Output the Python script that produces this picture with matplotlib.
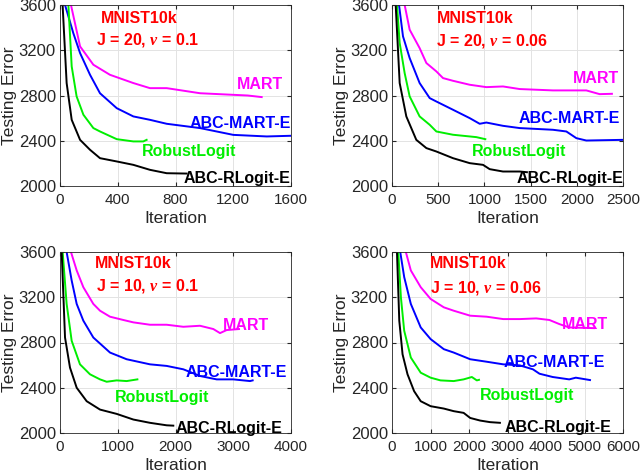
"""ABC boosting on MNIST10k: testing error vs iteration, 4 panels"""
import matplotlib
matplotlib.use("Agg")
import matplotlib.pyplot as plt

plt.rcParams["font.family"] = ["Liberation Sans", "DejaVu Sans"]
plt.rcParams["mathtext.fontset"] = "custom"
plt.rcParams["mathtext.it"] = "Liberation Serif:italic:bold"

# ---- panel 1: J = 20, nu = 0.1 ----
p1_mart_x = [70, 76, 139, 231, 346, 508, 623, 739, 970, 1200, 1300, 1397]
p1_mart_y = [3700, 3600, 3234, 3072, 2983, 2910, 2865, 2865, 2820, 2806, 2800, 2786]
p1_abcm_x = [30, 35, 92, 139, 208, 277, 393, 508, 623, 739, 970, 1200, 1432, 1600]
p1_abcm_y = [3700, 3600, 3352, 3175, 2983, 2820, 2688, 2615, 2585, 2550, 2512, 2452, 2438, 2444]
p1_rob_x = [54, 58, 81, 115, 162, 231, 277, 393, 508, 577, 600]
p1_rob_y = [3700, 3600, 3057, 2792, 2630, 2512, 2482, 2414, 2394, 2394, 2408]
p1_abcr_x = [15, 18, 46, 81, 139, 208, 277, 393, 508, 623, 739, 877]
p1_abcr_y = [3700, 3600, 2910, 2585, 2408, 2320, 2246, 2217, 2187, 2143, 2113, 2110]

# ---- panel 2: J = 20, nu = 0.06 ----
p2_mart_x = [130, 137, 191, 299, 372, 480, 552, 660, 841, 1021, 1201, 1382, 1742, 2103, 2247, 2380]
p2_mart_y = [3700, 3600, 3382, 3219, 3087, 3013, 2954, 2930, 2895, 2874, 2880, 2857, 2845, 2845, 2812, 2815]
p2_abcm_x = [70, 76, 119, 191, 299, 408, 480, 660, 841, 949, 1021, 1201, 1382, 1742, 1887, 1995, 2103, 2500]
p2_abcm_y = [3700, 3600, 3323, 3131, 2910, 2777, 2747, 2674, 2600, 2550, 2561, 2532, 2512, 2497, 2482, 2423, 2402, 2408]
p2_rob_x = [50, 54, 83, 137, 191, 299, 408, 480, 660, 841, 913, 1010]
p2_rob_y = [3700, 3600, 3264, 2998, 2792, 2615, 2541, 2482, 2453, 2438, 2432, 2414]
p2_abcr_x = [36, 40, 83, 155, 263, 372, 480, 660, 841, 985, 1057, 1201, 1382, 1460]
p2_abcr_y = [3700, 3600, 2910, 2615, 2408, 2335, 2305, 2246, 2202, 2187, 2149, 2128, 2128, 2122]

# ---- panel 3: J = 10, nu = 0.1 ----
p3_mart_x = [180, 190, 289, 404, 577, 693, 866, 1097, 1270, 1558, 1847, 2136, 2424, 2655, 2771, 2886, 3100]
p3_mart_y = [3700, 3600, 3437, 3289, 3141, 3081, 3028, 2999, 2978, 2957, 2957, 2939, 2948, 2919, 2883, 2910, 2919]
p3_abcm_x = [105, 115, 202, 289, 404, 577, 866, 1154, 1558, 1847, 2136, 2424, 2713, 3001, 3290, 3336]
p3_abcm_y = [3700, 3600, 3348, 3141, 2993, 2844, 2711, 2652, 2607, 2593, 2563, 2504, 2474, 2474, 2459, 2465]
p3_rob_x = [40, 46, 115, 202, 346, 519, 693, 808, 981, 1154, 1340]
p3_rob_y = [3700, 3600, 3141, 2815, 2607, 2519, 2474, 2453, 2465, 2459, 2474]
p3_abcr_x = [25, 29, 87, 173, 289, 462, 693, 981, 1270, 1558, 1847, 1962]
p3_abcr_y = [3700, 3600, 2844, 2578, 2400, 2281, 2207, 2169, 2119, 2090, 2068, 2065]

# ---- panel 4: J = 10, nu = 0.06 ----
p4_mart_x = [340, 360, 489, 746, 1003, 1346, 1603, 2031, 2460, 2889, 3317, 3746, 4089, 4346, 4603, 5250]
p4_mart_y = [3700, 3600, 3437, 3289, 3185, 3111, 3081, 3037, 3028, 3007, 3007, 3013, 2999, 2963, 2933, 2927]
p4_abcm_x = [200, 214, 317, 489, 746, 1003, 1346, 1603, 2031, 2460, 2889, 3317, 3660, 3831, 4174, 4603, 4774, 5143]
p4_abcm_y = [3700, 3600, 3378, 3141, 2933, 2830, 2741, 2711, 2652, 2630, 2607, 2598, 2563, 2524, 2495, 2474, 2489, 2468]
p4_rob_x = [150, 163, 231, 317, 489, 746, 1003, 1260, 1603, 1860, 2074, 2203, 2260]
p4_rob_y = [3700, 3600, 3200, 2904, 2667, 2533, 2489, 2465, 2459, 2474, 2495, 2465, 2470]
p4_abcr_x = [120, 129, 189, 274, 403, 574, 746, 1003, 1346, 1603, 1860, 2031, 2289, 2546, 2803]
p4_abcr_y = [3700, 3600, 2993, 2696, 2519, 2370, 2281, 2237, 2216, 2193, 2178, 2133, 2110, 2096, 2090]

SETTINGS = [r"J = 20, $\nu$ = 0.1", r"J = 20, $\nu$ = 0.06",
            r"J = 10, $\nu$ = 0.1", r"J = 10, $\nu$ = 0.06"]
XMAX = [1600, 2500, 4000, 6000]
XSTEP = [400, 500, 1000, 1000]
NAMES = ["MART", "ABC-MART-E", "RobustLogit", "ABC-RLogit-E"]
COLORS = ["#ff00ff", "#0000ff", "#00ee00", "#000000"]

curves = [
    [(p1_mart_x, p1_mart_y), (p1_abcm_x, p1_abcm_y), (p1_rob_x, p1_rob_y), (p1_abcr_x, p1_abcr_y)],
    [(p2_mart_x, p2_mart_y), (p2_abcm_x, p2_abcm_y), (p2_rob_x, p2_rob_y), (p2_abcr_x, p2_abcr_y)],
    [(p3_mart_x, p3_mart_y), (p3_abcm_x, p3_abcm_y), (p3_rob_x, p3_rob_y), (p3_abcr_x, p3_abcr_y)],
    [(p4_mart_x, p4_mart_y), (p4_abcm_x, p4_abcm_y), (p4_rob_x, p4_rob_y), (p4_abcr_x, p4_abcr_y)],
]

# text anchors (x, y) in data coords: MNIST10k, setting, then one per curve
label_pos = [
    [(547, 3485), (603, 3293), (1388, 2901), (1252, 2556), (891, 2305), (1224, 2063)],
    [(902, 3485), (1079, 3278), (2210, 2948), (1923, 2594), (1371, 2305), (1923, 2063)],
    [(1276, 3502), (1507, 3296), (3227, 2950), (3059, 2539), (1772, 2317), (2932, 2044)],
    [(1971, 3502), (2426, 3283), (5006, 2961), (4226, 2621), (3506, 2333), (4303, 2050)],
]

fig = plt.figure(figsize=(6.4, 4.75), dpi=100)
boxes = [(60, 5), (392, 5), (60, 252), (392, 252)]
W, H = 231, 181

for k in range(4):
    left, top = boxes[k]
    ax = fig.add_axes([left / 640, 1 - (top + H) / 475, W / 640, H / 475])
    for (xs, ys), c in zip(curves[k], COLORS):
        ax.plot(xs, ys, color=c, lw=1.4)
    ax.set_xlim(0, XMAX[k])
    ax.set_ylim(2000, 3600)
    ax.set_xticks(range(0, XMAX[k] + 1, XSTEP[k]))
    ax.set_yticks([2000, 2400, 2800, 3200, 3600])
    ax.grid(True, color="#e3e3e3", lw=0.7)
    ax.tick_params(direction="in", length=3, labelsize=12, colors="#262626",
                   top=True, right=True, pad=3)
    ax.tick_params(axis="x", pad=5, labelsize=11)
    for s in ax.spines.values():
        s.set_color("#262626")
        s.set_linewidth(0.6)
    ax.set_xlabel("Iteration", fontsize=12.5, color="#262626", labelpad=3)
    ax.set_ylabel("Testing Error", fontsize=12.5, color="#262626", labelpad=1)

    pos = label_pos[k]
    ax.text(*pos[0], "MNIST10k", color="red", fontsize=11.5, fontweight="bold",
            ha="center", va="center")
    ax.text(*pos[1], SETTINGS[k], color="red", fontsize=11.5, fontweight="bold",
            ha="center", va="center")
    for name, c, p in zip(NAMES, COLORS, pos[2:]):
        ax.text(*p, name, color=c, fontsize=11.5, fontweight="bold",
                ha="center", va="center")

plt.savefig("out.png", dpi=100)
plt.close()
